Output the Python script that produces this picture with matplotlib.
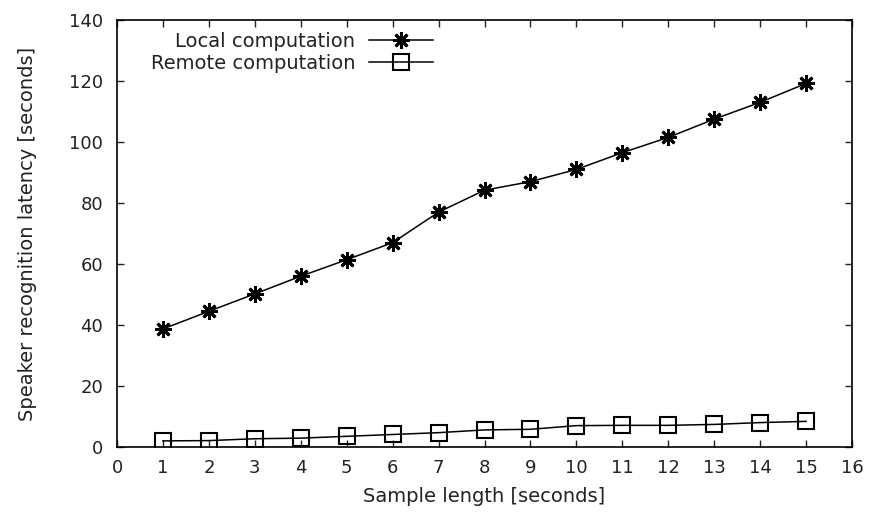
import matplotlib.pyplot as plt

sample_len = [1, 2, 3, 4, 5, 6, 7, 8, 9, 10, 11, 12, 13, 14, 15]
local_lat = [38.7, 44.5, 50.2, 56.0, 61.4, 67.0, 77.0, 84.2, 87.0, 91.0, 96.5, 101.5, 107.5, 113.0, 119.2]
remote_lat = [2.0, 2.1, 2.7, 2.9, 3.5, 4.1, 4.7, 5.6, 5.8, 7.0, 7.1, 7.1, 7.4, 8.0, 8.4]

# wide sans to get close to the stretched Helvetica of the original
plt.rcParams['font.family'] = ['DejaVu Sans']
text_col = '#222222'
fs = 13
fs_lab = 14

fig = plt.figure(figsize=(8.82, 5.22), dpi=100)
ax = fig.add_axes([0.1327, 0.1437, 0.8333, 0.818])

ax.plot(sample_len, local_lat, color='black', lw=1.1, marker=(8, 2, 0),
        markersize=12, mew=2.0, label='Local computation')
ax.plot(sample_len, remote_lat, color='black', lw=1.1, marker='s',
        markersize=11, mfc='none', mew=1.5, label='Remote computation')

ax.set_xlim(0, 16)
ax.set_ylim(0, 140)
ax.set_xticks(range(0, 17))
ax.set_yticks(range(0, 141, 20))
ax.tick_params(direction='in', top=True, right=True, length=5, width=1,
               labelsize=fs, colors=text_col, pad=10)
ax.tick_params(axis='x', pad=9)
for s in ax.spines.values():
    s.set_linewidth(1.2)

ax.set_xlabel('Sample length [seconds]', fontsize=fs_lab, color=text_col, labelpad=7)
ax.set_ylabel('Speaker recognition latency [seconds]', fontsize=fs_lab,
              color=text_col, labelpad=23)

leg = ax.legend(loc='upper right', bbox_to_anchor=(0.43, 0.972), frameon=False,
                markerfirst=False, fontsize=fs_lab, handlelength=3.3,
                handletextpad=0.7, labelspacing=0.15, borderaxespad=0, borderpad=0)
for t in leg.get_texts():
    t.set_color(text_col)
    t.set_ha('right')
leg._legend_box.align = 'right'

fig.savefig('out.png', dpi=100)
